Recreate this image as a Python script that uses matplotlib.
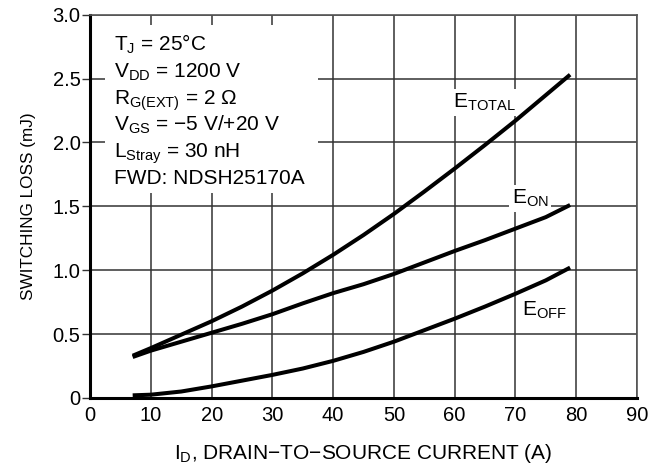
import numpy as np
import matplotlib.pyplot as plt
from matplotlib.patches import Rectangle

plt.rcParams['font.family'] = ['Liberation Sans', 'DejaVu Sans']
plt.rcParams['mathtext.fontset'] = 'custom'
plt.rcParams['mathtext.rm'] = 'Liberation Sans'
plt.rcParams['mathtext.it'] = 'Liberation Sans'

# drain current (A)
current = [7, 10, 15, 20, 25, 30, 35, 40, 45, 50, 55, 60, 65, 70, 75, 79]
# switching losses (mJ)
e_total = [0.33, 0.39, 0.495, 0.60, 0.715, 0.84, 0.975, 1.12, 1.275, 1.44, 1.615, 1.795, 1.98, 2.17, 2.37, 2.53]
e_on = [0.32, 0.37, 0.44, 0.51, 0.58, 0.655, 0.74, 0.82, 0.89, 0.97, 1.06, 1.15, 1.235, 1.325, 1.415, 1.51]
e_off = [0.02, 0.025, 0.05, 0.09, 0.135, 0.18, 0.23, 0.29, 0.36, 0.44, 0.53, 0.62, 0.715, 0.815, 0.92, 1.02]

xticks = [0, 10, 20, 30, 40, 50, 60, 70, 80, 90]
yticks = [0, 0.5, 1.0, 1.5, 2.0, 2.5, 3.0]
ytick_labels = ['0', '0.5', '1.0', '1.5', '2.0', '2.5', '3.0']

conditions = [r'T$_\mathregular{J}$ = 25°C',
              r'V$_\mathregular{DD}$ = 1200 V',
              r'R$_\mathregular{G(EXT)}$ = 2 Ω',
              r'V$_\mathregular{GS}$ = −5 V/+20 V',
              r'L$_\mathregular{Stray}$ = 30 nH',
              'FWD: NDSH25170A']

fig = plt.figure(figsize=(6.58, 4.72), dpi=100)
ax = fig.add_axes([0.137, 0.157, 0.831, 0.812])

for series in [e_total, e_on, e_off]:
    ax.plot(current, series, color='black', lw=2.9, solid_capstyle='butt',
            solid_joinstyle='round', zorder=3)

ax.set_xlim(0, 90)
ax.set_ylim(0, 3.0)
ax.set_xticks(xticks)
ax.set_yticks(yticks)
ax.set_yticklabels(ytick_labels)
ax.tick_params(axis='x', length=0, labelsize=14.5, pad=6)
ax.tick_params(axis='y', length=6, width=1, color='#333333', labelsize=14.5, pad=1)
ax.grid(True, color='#333333', lw=1.1)
ax.set_axisbelow(True)

for side in ['top', 'right']:
    ax.spines[side].set_color('#555555')
    ax.spines[side].set_linewidth(1.2)
for side in ['left', 'bottom']:
    ax.spines[side].set_color('black')
    ax.spines[side].set_linewidth(2.2)

# white box behind the test conditions
ax.add_patch(Rectangle((0.027, 0.534), 0.39, 0.439, transform=ax.transAxes,
                       fc='white', ec='none', zorder=1.5))
for i, line in enumerate(conditions):
    ax.text(0.043, 0.905 - i * 0.0694, line, transform=ax.transAxes,
            fontsize=15, va='baseline', ha='left', zorder=2)

lbl = dict(fontsize=15, va='baseline', ha='left', zorder=2,
           bbox=dict(fc='white', ec='none', pad=2))
ax.text(59.8, 2.27, r'E$_\mathregular{TOTAL}$', **lbl)
ax.text(69.4, 1.52, r'E$_\mathregular{ON}$', **lbl)
ax.text(71.0, 0.64, r'E$_\mathregular{OFF}$', **lbl)

ax.set_xlabel(r'I$_\mathregular{D}$, DRAIN−TO−SOURCE CURRENT (A)', fontsize=15, labelpad=12)
ax.set_ylabel('SWITCHING LOSS (mJ)', fontsize=12.3, labelpad=12)

fig.savefig('out.png', dpi=100)
